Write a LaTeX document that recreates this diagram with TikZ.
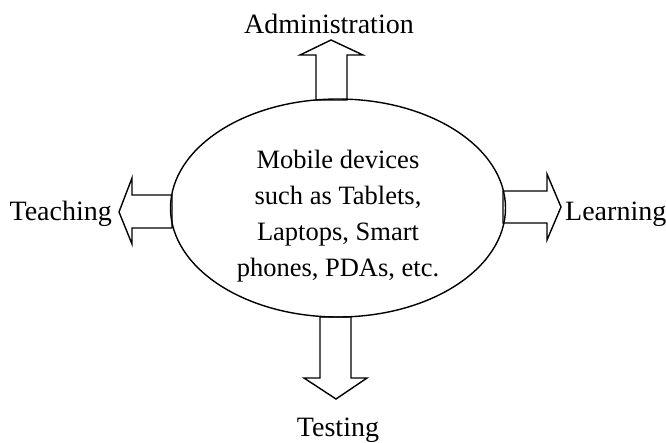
\documentclass[tikz,border=0pt]{standalone}
\usepackage{fontspec}
\setmainfont{Liberation Serif}
\usetikzlibrary{shapes.geometric}
\begin{document}
\begin{tikzpicture}[x=1pt,y=-1pt,
	blockarrow/.style={draw,line width=1.4pt,line join=miter},
	sidetext/.style={font=\fontsize{28}{30}\selectfont,inner sep=0pt}]
	\useasboundingbox (0,0) rectangle (666,442);
	%hub
	\node[draw,ellipse,line width=1.4pt,minimum width=335pt,minimum height=218pt] (hub) at (338,208) {};
	\node[align=center,font=\fontsize{26.5}{36}\selectfont] (hubtext) at (338,216) {Mobile devices\\such as Tablets,\\Laptops, Smart\\phones, PDAs, etc.};
	
	%labels
	\node[sidetext,anchor=base] (admin) at (329,33) {Administration};
	\node[sidetext,anchor=base east] (teach) at (112,220) {Teaching};
	\node[sidetext,anchor=base west] (learn) at (565,220) {Learning};
	\node[sidetext,anchor=base] (test) at (338,436) {Testing};
	
	%block arrows
	\draw[blockarrow] (316,100) -- (316,55) -- (300,55) -- (331,40) -- (363,55) -- (347,55) -- (347,100) -- cycle;
	\draw[blockarrow] (172,195) -- (132,195) -- (132,178) -- (119,212) -- (132,244) -- (132,228) -- (172,228) -- cycle;
	\draw[blockarrow] (503,191) -- (547,191) -- (547,174) -- (561,207) -- (547,240) -- (547,223) -- (503,223) -- cycle;
	\draw[blockarrow] (320,317) -- (320,378) -- (304,378) -- (336,399) -- (367,378) -- (351,378) -- (351,317) -- cycle;
\end{tikzpicture}
\end{document}
